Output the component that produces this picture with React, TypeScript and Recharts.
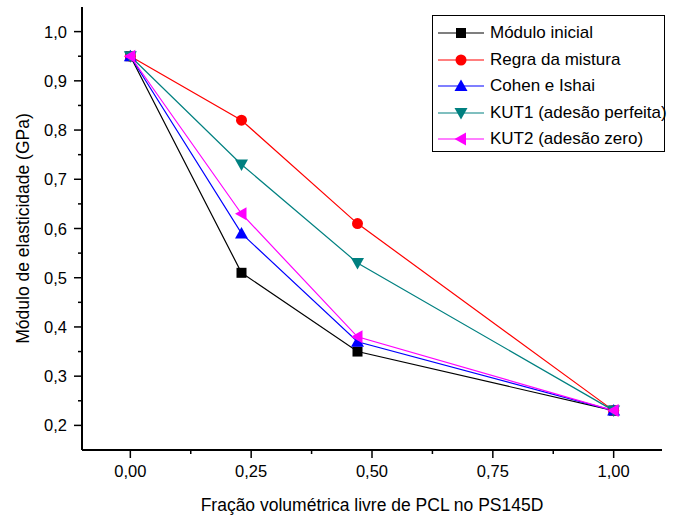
import React from 'react';
import { LineChart, Line, XAxis, YAxis, Legend } from 'recharts';

const xValues = [0, 0.23, 0.47, 1.0];
const moduloInicial = [0.95, 0.51, 0.35, 0.23];
const regraMistura = [0.95, 0.82, 0.61, 0.23];
const cohenIshai = [0.95, 0.59, 0.37, 0.23];
const kut1 = [0.95, 0.73, 0.53, 0.23];
const kut2 = [0.95, 0.63, 0.38, 0.23];

const xTicks = [0, 0.125, 0.25, 0.375, 0.5, 0.625, 0.75, 0.875, 1.0];
const yTicks = [0.2, 0.25, 0.3, 0.35, 0.4, 0.45, 0.5, 0.55, 0.6, 0.65, 0.7, 0.75, 0.8, 0.85, 0.9, 0.95, 1.0];

const xTitle = 'Fração volumétrica livre de PCL no PS145D';
const yTitle = 'Módulo de elasticidade (GPa)';

const series = [
  { key: 'mi', name: 'Módulo inicial', color: '#000000', shape: 'square', values: moduloInicial },
  { key: 'rm', name: 'Regra da mistura', color: '#ff0000', shape: 'circle', values: regraMistura },
  { key: 'ci', name: 'Cohen e Ishai', color: '#0000ff', shape: 'up', values: cohenIshai },
  { key: 'k1', name: 'KUT1 (adesão perfeita)', color: '#008080', shape: 'down', values: kut1 },
  { key: 'k2', name: 'KUT2 (adesão zero)', color: '#ff00ff', shape: 'left', values: kut2 },
];

const data = xValues.map((x, i) => {
  const row: any = { x };
  series.forEach((s) => { row[s.key] = s.values[i]; });
  return row;
});

const FONT = '"Liberation Sans", Arial, Helvetica, sans-serif';

function Marker({ shape, cx, cy, color }: any) {
  if (cx == null || cy == null) return null;
  switch (shape) {
    case 'square':
      return <rect x={cx - 5} y={cy - 5} width={10} height={10} fill={color} />;
    case 'circle':
      return <circle cx={cx} cy={cy} r={5.5} fill={color} />;
    case 'up':
      return <polygon points={`${cx},${cy - 6.5} ${cx + 6.5},${cy + 5} ${cx - 6.5},${cy + 5}`} fill={color} />;
    case 'down':
      return <polygon points={`${cx},${cy + 6.5} ${cx + 6.5},${cy - 5} ${cx - 6.5},${cy - 5}`} fill={color} />;
    case 'left':
      return <polygon points={`${cx - 6.5},${cy} ${cx + 5},${cy - 6.5} ${cx + 5},${cy + 6.5}`} fill={color} />;
    default:
      return null;
  }
}

const isMajorX = (v: number) => Math.abs(v * 4 - Math.round(v * 4)) < 1e-6;
const isMajorY = (v: number) => Math.abs(v * 10 - Math.round(v * 10)) < 1e-6;

function XTick(props: any) {
  const { x, y, payload } = props;
  const major = isMajorX(payload.value);
  return (
    <g>
      <line x1={x} x2={x} y1={y} y2={y + (major ? 8 : 4)} stroke="#000" strokeWidth={1.5} />
      {major && (
        <text x={x} y={y + 27} textAnchor="middle" fontSize={16.5} fontFamily={FONT} fill="#000">
          {payload.value.toFixed(2).replace('.', ',')}
        </text>
      )}
    </g>
  );
}

function YTick(props: any) {
  const { x, y, payload } = props;
  const major = isMajorY(payload.value);
  return (
    <g>
      <line x1={x} x2={x - (major ? 8 : 4)} y1={y} y2={y} stroke="#000" strokeWidth={1.5} />
      {major && (
        <text x={x - 15} y={y + 6} textAnchor="end" fontSize={16.5} fontFamily={FONT} fill="#000">
          {payload.value.toFixed(1).replace('.', ',')}
        </text>
      )}
    </g>
  );
}

function LegendBox() {
  return (
    <div
      style={{
        width: 233,
        height: 137,
        border: '1px solid #000',
        boxSizing: 'border-box',
        background: '#fff',
        paddingTop: 4,
        fontFamily: FONT,
        fontSize: 17,
        color: '#000',
      }}
    >
      {series.map((s) => (
        <div key={s.key} style={{ display: 'flex', alignItems: 'center', height: 26.5, whiteSpace: 'nowrap' }}>
          <svg width={56} height={26} style={{ flex: 'none' }}>
            <line x1={5} x2={51} y1={13} y2={13} stroke={s.color} strokeWidth={1.2} />
            <Marker shape={s.shape} cx={28} cy={13} color={s.color} />
          </svg>
          <span style={{ marginLeft: 1 }}>{s.name}</span>
        </div>
      ))}
    </div>
  );
}

export default function App() {
  return (
    <div style={{ position: 'absolute', left: 0, top: 0, background: '#fff' }}>
      <LineChart width={695} height={517} data={data} margin={{ top: 7, right: 33, left: 0, bottom: 0 }}>
        <XAxis
          dataKey="x"
          type="number"
          domain={[-0.1, 1.1]}
          ticks={xTicks}
          interval={0}
          tickSize={0}
          tickMargin={0}
          tickLine={false}
          tick={<XTick />}
          axisLine={{ stroke: '#000', strokeWidth: 2 }}
          height={67}
          allowDataOverflow
          label={{
            content: (p: any) => {
              const vb = p.viewBox || {};
              const cx = (vb.x || 0) + (vb.width || 0) / 2;
              return (
                <text x={cx} y={511} textAnchor="middle" fontSize={17.5} fontFamily={FONT} fill="#000">
                  {xTitle}
                </text>
              );
            },
          }}
        />
        <YAxis
          type="number"
          domain={[0.15, 1.05]}
          ticks={yTicks}
          interval={0}
          tickSize={0}
          tickMargin={0}
          tickLine={false}
          tick={<YTick />}
          axisLine={{ stroke: '#000', strokeWidth: 2 }}
          width={82}
          allowDataOverflow
          label={{
            content: (p: any) => {
              const vb = p.viewBox || {};
              const cy = (vb.y || 0) + (vb.height || 0) / 2;
              return (
                <text
                  x={23}
                  y={cy}
                  transform={`rotate(-90 23 ${cy})`}
                  textAnchor="middle"
                  dominantBaseline="central"
                  fontSize={17.5}
                  fontFamily={FONT}
                  fill="#000"
                >
                  {yTitle}
                </text>
              );
            },
          }}
        />
        <Legend
          layout="vertical"
          align="center"
          verticalAlign="middle"
          content={() => <LegendBox />}
          wrapperStyle={{ left: 432, top: 15, width: 233, height: 137 }}
        />
        {series.map((s) => (
          <Line
            key={s.key}
            dataKey={s.key}
            name={s.name}
            stroke={s.color}
            strokeWidth={1.2}
            isAnimationActive={false}
            dot={(props: any) => <Marker key={`${s.key}-${props.index}`} shape={s.shape} cx={props.cx} cy={props.cy} color={s.color} />}
            activeDot={false}
          />
        ))}
      </LineChart>
    </div>
  );
}
